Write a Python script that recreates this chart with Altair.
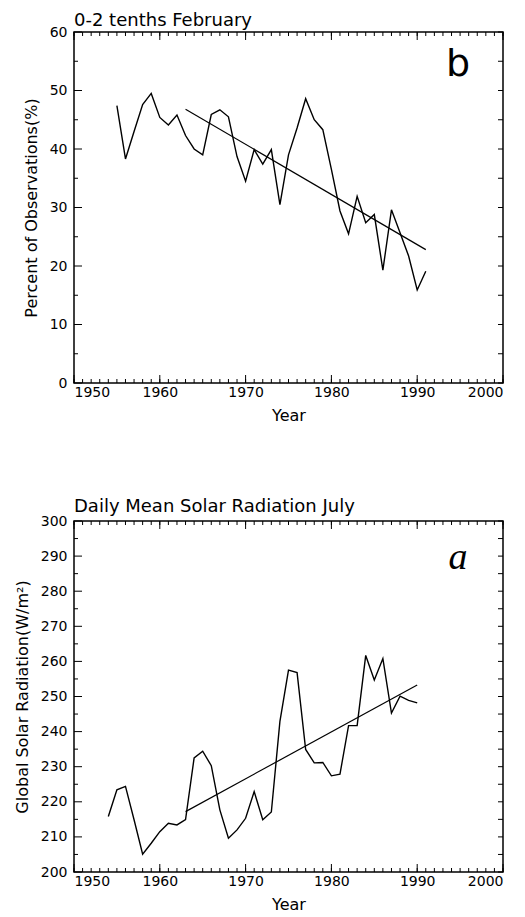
import altair as alt
import pandas as pd

# ---- data ----
top_years = list(range(1955, 1992))
top_vals = [47.4, 38.3, 43.0, 47.6, 49.5, 45.4, 44.1, 45.8, 42.3, 40.0, 39.0,
            45.9, 46.7, 45.5, 38.7, 34.5, 39.9, 37.4, 39.9, 30.5, 39.0, 43.6,
            48.6, 45.0, 43.3, 36.5, 29.4, 25.5, 31.9, 27.4, 28.8, 19.3, 29.6,
            25.7, 21.7, 15.9, 19.1]
top_trend_years = [1963, 1991]
top_trend_vals = [46.8, 22.8]

bot_years = list(range(1954, 1991))
bot_vals = [215.8, 223.4, 224.4, 214.9, 205.1, 208.2, 211.5, 213.9, 213.4,
            214.9, 232.5, 234.4, 230.3, 217.7, 209.6, 212.0, 215.3, 222.9,
            214.9, 217.1, 242.9, 257.5, 256.8, 234.9, 231.1, 231.2, 227.4,
            227.9, 241.7, 241.7, 261.7, 254.7, 260.8, 245.3, 250.1, 248.9,
            248.2]
bot_trend_years = [1963, 1990]
bot_trend_vals = [217.2, 253.3]

x_labels = [1950, 1960, 1970, 1980, 1990, 2000]
x_minor = list(range(1950, 2001))
top_y_labels = [0, 10, 20, 30, 40, 50, 60]
top_y_minor = [5, 15, 25, 35, 45, 55]
bot_y_labels = [200, 210, 220, 230, 240, 250, 260, 270, 280, 290, 300]
bot_y_minor = [205, 215, 225, 235, 245, 255, 265, 275, 285, 295]

W, H = 429, 351
FONT = "DejaVu Sans"


def panel(years, vals, t_years, t_vals, y_dom, y_labels, y_minor, y_title,
          title, title_offset, letter, letter_font, letter_style, letter_y):
    xs = alt.Scale(domain=[1950, 2000], nice=False, zero=False)
    ys = alt.Scale(domain=y_dom, nice=False, zero=False)
    xax = alt.Axis(values=x_labels, format="d", ticks=False, grid=False,
                   title="Year", labelPadding=2, titlePadding=8)
    yax = alt.Axis(values=y_labels, ticks=False, grid=False, title=y_title,
                   labelPadding=7, titlePadding=10)
    X = alt.X("Year:Q", scale=xs, axis=xax)
    Y = alt.Y("Value:Q", scale=ys, axis=yax)

    df = pd.DataFrame({"Year": years, "Value": vals})
    tr = pd.DataFrame({"Year": t_years, "Value": t_vals})
    line = alt.Chart(df).mark_line(color="black", strokeWidth=1.4).encode(x=X, y=Y)
    trend = alt.Chart(tr).mark_line(color="black", strokeWidth=1.2).encode(x=X, y=Y)

    xmaj = pd.DataFrame({"Year": x_labels})
    xmin = pd.DataFrame({"Year": x_minor})
    ymaj = pd.DataFrame({"Value": y_labels})
    ymin = pd.DataFrame({"Value": y_minor})
    ytick_all = pd.DataFrame({"Value": sorted(y_labels + y_minor)})

    rule = dict(color="black", strokeWidth=1)
    layers = [
        # bottom ticks
        alt.Chart(xmin).mark_rule(**rule).encode(x=X, y=alt.value(H), y2=alt.value(H - 4)),
        alt.Chart(xmaj).mark_rule(**rule).encode(x=X, y=alt.value(H), y2=alt.value(H - 8)),
        # top ticks
        alt.Chart(xmin).mark_rule(**rule).encode(x=X, y=alt.value(0), y2=alt.value(4)),
        alt.Chart(xmaj).mark_rule(**rule).encode(x=X, y=alt.value(0), y2=alt.value(8)),
        # left ticks
        alt.Chart(ymin).mark_rule(**rule).encode(y=Y, x=alt.value(0), x2=alt.value(4)),
        alt.Chart(ymaj).mark_rule(**rule).encode(y=Y, x=alt.value(0), x2=alt.value(8)),
        # right ticks
        alt.Chart(ytick_all).mark_rule(**rule).encode(y=Y, x=alt.value(W), x2=alt.value(W - 5)),
        line,
        trend,
        alt.Chart(pd.DataFrame({"t": [letter]})).mark_text(
            font=letter_font, fontStyle=letter_style, fontWeight="normal",
            fontSize=38, color="black", align="center", baseline="middle"
        ).encode(text="t:N", x=alt.value(W - 45), y=alt.value(letter_y)),
    ]
    return alt.layer(*layers).properties(
        width=W, height=H,
        title=alt.TitleParams(title, anchor="start", frame="group", font=FONT,
                              fontSize=18, fontWeight="normal", color="black",
                              offset=title_offset),
    )


top = panel(top_years, top_vals, top_trend_years, top_trend_vals, [0, 60],
            top_y_labels, top_y_minor, "Percent of Observations(%)",
            "0-2 tenths February", -5, "b", "DejaVu Sans", "normal", 33)
bot = panel(bot_years, bot_vals, bot_trend_years, bot_trend_vals, [200, 300],
            bot_y_labels, bot_y_minor, "Global Solar Radiation(W/m²)",
            "Daily Mean Solar Radiation July", -2, "a", "Liberation Serif",
            "italic", 37)

chart = alt.vconcat(top, bot, spacing=73).properties(
    padding={"left": 5, "top": 3, "right": 5, "bottom": 2},
    background="white",
).configure_view(
    stroke="black", strokeWidth=1.5
).configure_axis(
    domain=False, labelFont=FONT, labelFontSize=14, labelColor="black",
    titleFont=FONT, titleFontSize=16, titleFontWeight="normal", titleColor="black",
)

chart.save("out.html", embed_options={"renderer": "svg", "actions": False})
